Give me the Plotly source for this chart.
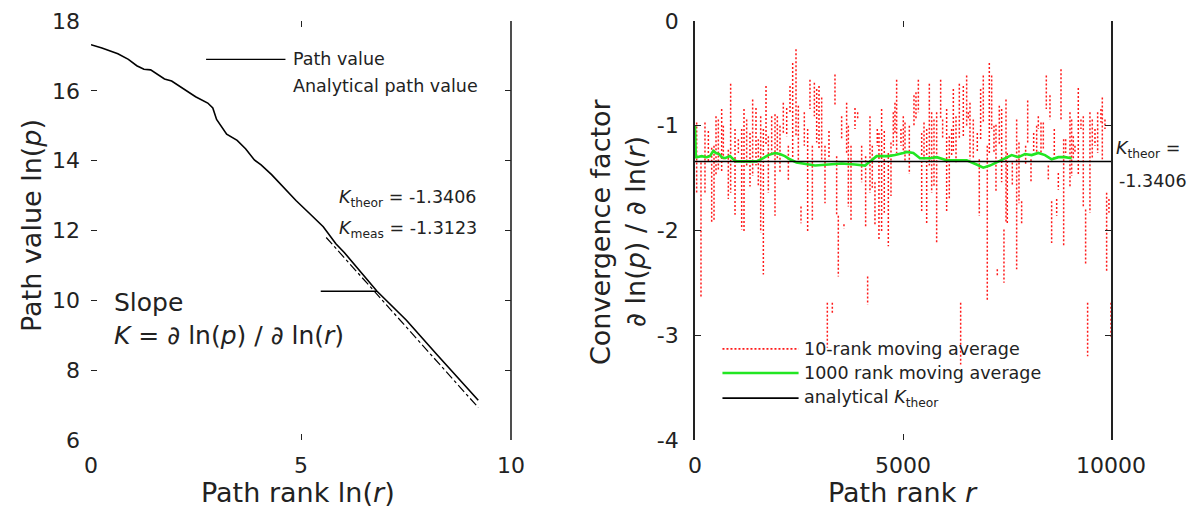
import plotly.graph_objects as go

# ---------------- data: left panel ----------------
path_lnr = [0.0, 0.26, 0.64, 0.89, 1.09, 1.26, 1.42, 1.75, 1.92, 2.16, 2.49, 2.78, 2.90, 2.99,
            3.11, 3.23, 3.48, 3.68, 3.89, 4.05, 4.30, 4.55, 4.88, 5.21, 5.53, 5.83, 6.03,
            6.81, 7.51, 8.24, 9.22]
path_lnp = [17.32, 17.23, 17.06, 16.90, 16.72, 16.62, 16.60, 16.34, 16.28, 16.09, 15.83, 15.65,
            15.51, 15.18, 14.95, 14.76, 14.58, 14.34, 14.02, 13.88, 13.60, 13.27, 12.86, 12.48,
            12.11, 11.62, 11.37, 10.26, 9.43, 8.44, 7.14]
analytic_lnr = [5.6, 9.22]
analytic_lnp = [11.80, 6.93]
K_theor = -1.3406
K_meas = -1.3123

# ---------------- data: right panel ----------------
red_rank = [40, 144, 240, 321, 401, 457, 505, 561, 641, 681, 801, 857, 962, 1042, 1122, 1178, 1242,
            1322, 1386, 1466, 1522, 1579, 1643, 1707, 1763, 1843, 1923, 1979, 2043, 2123, 2204,
            2244, 2284, 2348, 2428, 2484,
            2548, 2628, 2708, 2764, 2821, 2869, 2925, 2981, 3045, 3125, 3181, 3221, 3301, 3365,
            3405, 3445, 3525, 3581, 3645, 3686, 3750, 3846, 3910, 4006, 4102, 4150, 4206, 4262,
            4326, 4382, 4422, 4486, 4550, 4647, 4711, 4767, 4807, 4847, 4951, 5007,
            5048, 5152, 5264, 5312, 5369, 5449, 5505, 5569, 5633, 5689, 5745, 5809, 5905, 5953,
            6049, 6113, 6169, 6210, 6274, 6354, 6386, 6450, 6530, 6570, 6610, 6690, 6786, 6834,
            6866, 6930, 7026, 7075, 7131, 7187, 7235, 7267, 7315, 7371, 7427, 7476, 7507,
            7628, 7732, 7788, 7852, 7948, 7997, 8077, 8141, 8213, 8253, 8317, 8373, 8445, 8493,
            8533, 8573, 8637, 8694, 8734, 8798, 8862, 8910, 9014, 9054, 9094, 9134, 9214, 9278,
            9334, 9390, 9438, 9494, 9550, 9615, 9679, 9759, 9791, 9855, 9895, 9951, 9999]
red_hi = [-0.97, -1.35, -0.97, -1.05, -1.21, -1.19, -0.91, -0.94, -0.84, -1.00, -1.23, -0.60, -1.03,
          -1.13, -1.03, -0.84, -0.94, -1.07, -0.75, -0.83, -1.13, -0.91, -1.03, -0.62, -1.10, -0.91,
          -0.89, -0.91, -1.00, -0.78, -0.83, -1.19, -0.62, -0.40, -0.27, -0.81,
          -1.77, -0.87, -1.03, -0.56, -1.19, -0.59, -0.65, -0.62, -0.73, -1.19, -2.69, -1.05, -2.69,
          -0.51, -1.29, -1.86, -0.91, -1.94, -0.78, -1.00, -1.19, -0.83, -0.87, -1.19, -1.29, -2.44,
          -0.91, -1.19, -1.54, -1.03, -1.07, -0.84, -1.05, -1.26, -1.16, -0.87, -0.78, -0.56, -1.03,
          -0.91,
          -0.97, -1.00, -0.71, -0.68, -0.56, -1.07, -0.97, -1.03, -0.60, -0.87, -0.94, -0.87, -0.56,
          -0.94, -0.84, -1.10, -1.03, -0.65, -0.91, -0.60, -2.69, -0.62, -0.52, -0.87, -0.78, -0.94,
          -1.07, -1.32, -0.65, -0.52, -1.19, -0.40, -0.52, -1.00, -0.99, -2.37, -0.81, -0.84, -1.99,
          -0.75, -1.26,
          -1.35, -0.94, -1.16, -1.72, -1.19, -0.76, -1.32, -1.07, -1.00, -0.91, -0.97, -0.97, -0.52,
          -1.38, -0.71, -1.72, -1.03, -1.70, -1.45, -0.46, -1.13, -1.13, -0.87, -0.94, -1.10, -1.19,
          -0.64, -0.94, -0.91, -1.80, -2.69, -0.87, -0.94, -1.03, -0.87, -0.84, -0.73, -0.94, -1.64,
          -1.70, -2.69]
red_lo = [-1.64, -2.63, -1.64, -1.35, -1.93, -1.90, -1.48, -1.42, -1.45, -1.32, -1.70, -1.64, -1.85,
          -1.26, -1.99, -2.01, -1.38, -1.58, -1.48, -1.38, -1.58, -2.02, -2.42, -1.19, -1.64, -1.29,
          -1.86, -1.32, -1.45, -1.07, -1.10, -1.53, -0.87, -1.32, -1.10, -1.38,
          -1.93, -1.19, -2.01, -0.84, -1.90, -0.91, -1.16, -1.22, -1.32, -1.74, -3.12, -1.32, -2.80,
          -0.81, -1.86, -2.44, -1.13, -1.98, -1.26, -1.77, -1.90, -1.03, -0.94, -1.54, -1.96, -2.71,
          -1.64, -1.61, -1.96, -1.19, -2.09, -2.02, -1.83, -2.15, -1.67, -1.19, -1.07, -1.26, -1.19,
          -1.26,
          -1.35, -1.46, -1.00, -0.94, -0.87, -1.83, -1.32, -1.93, -1.38, -1.64, -1.58, -2.12, -0.94,
          -1.13, -1.83, -1.70, -1.29, -1.26, -1.35, -1.13, -3.28, -1.10, -1.00, -0.94, -1.32, -1.32,
          -1.26, -1.86, -1.13, -0.97, -2.66, -1.26, -1.03, -1.26, -1.64, -2.44, -1.19, -1.54, -2.50,
          -1.93, -1.93,
          -1.58, -2.37, -1.74, -1.93, -1.38, -1.16, -1.54, -1.26, -1.26, -1.03, -1.26, -1.23, -0.84,
          -1.51, -0.94, -2.12, -1.32, -1.86, -1.61, -0.94, -2.15, -1.26, -1.58, -1.48, -1.32, -1.26,
          -1.48, -1.03, -1.77, -2.32, -3.20, -1.83, -1.32, -1.19, -1.26, -0.97, -1.32, -1.03, -2.40,
          -1.83, -3.03]

green_rank = [0, 20, 40, 160, 280, 360, 440, 505, 580, 640, 720, 840, 920, 1000, 1240, 1480, 1640,
              1760, 1920, 2040, 2160, 2280, 2440, 2885, 3205, 3525, 3846, 4086, 4246, 4366, 4647,
              4807, 5007, 5088, 5248, 5409, 5649, 5809, 6049, 6290, 6530, 6770, 6930, 7090, 7251,
              7411, 7571, 7612, 7772, 7933, 8093, 8253, 8413, 8573, 8734, 8894, 9054]
green_val = [-1.00, -1.30, -1.30, -1.29, -1.30, -1.29, -1.24, -1.26, -1.27, -1.30, -1.31, -1.29,
             -1.32, -1.34, -1.34, -1.34, -1.31, -1.28, -1.26, -1.27, -1.29, -1.32, -1.35, -1.38,
             -1.37, -1.36, -1.37, -1.38, -1.33, -1.29, -1.29, -1.28, -1.26, -1.25, -1.26, -1.31,
             -1.31, -1.30, -1.33, -1.33, -1.33, -1.37, -1.40, -1.38, -1.35, -1.32, -1.29, -1.28,
             -1.30, -1.27, -1.28, -1.26, -1.28, -1.32, -1.30, -1.30, -1.31]

x_ticks_left = [0, 5, 10]
x_labels_left = ["0", "5", "10"]
y_ticks_left = [6, 8, 10, 12, 14, 16, 18]
y_labels_left = ["6", "8", "10", "12", "14", "16", "18"]
x_ticks_right = [0, 5000, 10000]
x_labels_right = ["0", "5000", "10000"]
y_ticks_right = [-4, -3, -2, -1, 0]
y_labels_right = ["-4", "-3", "-2", "-1", "0"]

FONT = "DejaVu Sans"
OFF = 8                      # page body margin of the browser
W, H = 1196 - OFF, 517 - OFF


def px(xp):
    return (xp - OFF) / W


def py(yp):
    return 1 - (yp - OFF) / H


rx, ry = [], []
for r, hi, lo in zip(red_rank, red_hi, red_lo):
    rx += [r, r, None]
    ry += [hi, lo, None]

fig = go.Figure()
fig.add_trace(go.Scatter(x=analytic_lnr, y=analytic_lnp, mode="lines",
                         line=dict(color="black", width=1.2, dash="dashdot"),
                         xaxis="x", yaxis="y", showlegend=False))
fig.add_trace(go.Scatter(x=path_lnr, y=path_lnp, mode="lines",
                         line=dict(color="black", width=1.6),
                         xaxis="x", yaxis="y", showlegend=False))
fig.add_trace(go.Scatter(x=rx, y=ry, mode="lines", connectgaps=False,
                         line=dict(color="#ff1a1a", width=1.5, dash="2px,2px"),
                         xaxis="x2", yaxis="y2", showlegend=False))
fig.add_trace(go.Scatter(x=green_rank, y=green_val, mode="lines",
                         line=dict(color="#22e622", width=2.6),
                         xaxis="x2", yaxis="y2", showlegend=False))
fig.add_trace(go.Scatter(x=[0, 10000], y=[K_theor, K_theor], mode="lines",
                         line=dict(color="black", width=1.6),
                         xaxis="x2", yaxis="y2", showlegend=False))

tickfont = dict(family=FONT, size=22, color="#222")
axis_common = dict(ticks="inside", ticklen=6, tickcolor="#222", mirror="ticks",
                   showgrid=False, zeroline=False, tickfont=tickfont, automargin=False)

fig.update_layout(
    width=W, height=H, autosize=False, margin=dict(l=0, r=0, t=0, b=0, pad=0),
    paper_bgcolor="white", plot_bgcolor="white", showlegend=False,
    font=dict(family=FONT, color="#222"),
    xaxis=dict(domain=[px(91), px(511)], range=[0, 10], tickvals=x_ticks_left,
               ticktext=x_labels_left, showline=False, anchor="y", ticklabelstandoff=10,
               **axis_common),
    yaxis=dict(domain=[py(440), py(21)], range=[6, 18], tickvals=y_ticks_left,
               ticktext=y_labels_left, showline=False, anchor="x", ticklabelstandoff=10,
               **axis_common),
    xaxis2=dict(domain=[px(695), px(1111)], range=[0, 10000], tickvals=x_ticks_right,
                ticktext=x_labels_right, showline=False, anchor="y2", ticklabelstandoff=10,
                **axis_common),
    yaxis2=dict(domain=[py(440), py(21)], range=[-4, 0], tickvals=y_ticks_right,
                ticktext=y_labels_right, showline=True, linecolor="#222", linewidth=1.6,
                anchor="x2", ticklabelstandoff=10, **axis_common),
)

fig.add_shape(type="line", xref="x domain", yref="y domain", x0=1, x1=1, y0=0, y1=1,
              line=dict(color="#222", width=1.6))
fig.add_shape(type="line", xref="x", yref="y", x0=2.74, x1=4.63, y0=16.9, y1=16.9,
              line=dict(color="black", width=1.4))
fig.add_shape(type="line", xref="x", yref="y", x0=5.47, x1=6.81, y0=10.26, y1=10.26,
              line=dict(color="black", width=1.4))

sf = dict(size=17.5, family=FONT, color="#222")
ann = []
ann.append(dict(x=4.76, y=16.9, xref="x", yref="y", text="Path value", showarrow=False,
                xanchor="left", yanchor="middle", font=sf))
ann.append(dict(x=4.76, y=16.14, xref="x", yref="y", text="Analytical path value", showarrow=False,
                xanchor="left", yanchor="middle", font=sf))
ann.append(dict(x=5.85, y=12.92, xref="x", yref="y",
                text="<i>K</i><sub>theor</sub> = %.4f" % K_theor, showarrow=False,
                xanchor="left", yanchor="middle", font=sf))
ann.append(dict(x=5.85, y=12.02, xref="x", yref="y",
                text="<i>K</i><sub>meas</sub> = %.4f" % K_meas, showarrow=False,
                xanchor="left", yanchor="middle", font=sf))
ann.append(dict(x=0.5, y=9.93, xref="x", yref="y", text="Slope", showarrow=False,
                xanchor="left", yanchor="middle", font=dict(size=25, family=FONT, color="#222")))
ann.append(dict(x=0.5, y=9.0, xref="x", yref="y",
                text="<i>K</i> = <i>∂</i> ln(<i>p</i>) / <i>∂</i> ln(<i>r</i>)", showarrow=False,
                xanchor="left", yanchor="middle", font=dict(size=25, family=FONT, color="#222")))

leg_items = [("10-rank moving average", "#ff1a1a", "2px,2px", 1.6, -3.13),
             ("1000 rank moving average", "#22e622", "solid", 2.6, -3.36),
             ("analytical <i>K</i><sub>theor</sub>", "black", "solid", 1.6, -3.60)]
for label, col, dash, lw, yy in leg_items:
    fig.add_shape(type="line", xref="x2", yref="y2", x0=660, x1=2490, y0=yy, y1=yy,
                  line=dict(color=col, width=lw, dash=dash))
    ann.append(dict(x=2560, y=yy, xref="x2", yref="y2", text=label, showarrow=False,
                    xanchor="left", yanchor="middle", font=sf))

# right-hand K_theor label (outside the axis range, so placed in paper coordinates)
ann.append(dict(x=px(1114), y=py(150), xref="paper", yref="paper",
                text="<i>K</i><sub>theor</sub> =", showarrow=False, xanchor="left",
                yanchor="middle", font=sf))
ann.append(dict(x=px(1117), y=py(181), xref="paper", yref="paper", text="%.4f" % K_theor,
                showarrow=False, xanchor="left", yanchor="middle", font=sf))

tf = dict(size=27, family=FONT, color="#222")
ann.append(dict(x=px(298), y=py(492), xref="paper", yref="paper",
                text="Path rank ln(<i>r</i>)", showarrow=False, xanchor="center", yanchor="middle",
                font=tf))
ann.append(dict(x=px(903), y=py(492), xref="paper", yref="paper",
                text="Path rank <i>r</i>", showarrow=False, xanchor="center", yanchor="middle",
                font=tf))
ann.append(dict(x=px(31), y=py(226), xref="paper", yref="paper",
                text="Path value ln(<i>p</i>)", showarrow=False, textangle=-90,
                xanchor="center", yanchor="middle", font=tf))
ann.append(dict(x=px(601), y=py(232), xref="paper", yref="paper",
                text="Convergence factor", showarrow=False, textangle=-90,
                xanchor="center", yanchor="middle", font=tf))
ann.append(dict(x=px(636), y=py(232), xref="paper", yref="paper",
                text="<i>∂</i> ln(<i>p</i>) / <i>∂</i> ln(<i>r</i>)", showarrow=False, textangle=-90,
                xanchor="center", yanchor="middle", font=tf))

fig.update_layout(annotations=ann)
fig.write_html("out.html")
